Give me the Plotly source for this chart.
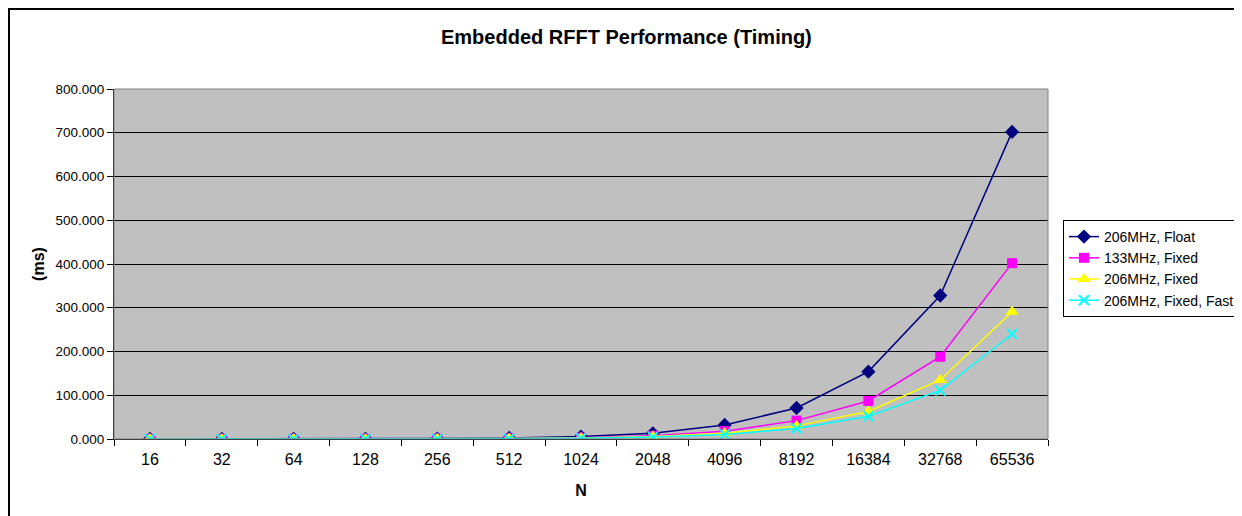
import plotly.graph_objects as go

n_labels = ["16", "32", "64", "128", "256", "512", "1024", "2048", "4096", "8192", "16384", "32768", "65536"]
float_206 = [0.04, 0.09, 0.2, 0.45, 1.0, 2.4, 5.5, 13.0, 32.0, 71.0, 154.0, 328.0, 702.0]
fixed_133 = [0.02, 0.05, 0.12, 0.27, 0.6, 1.3, 3.0, 7.5, 18.0, 42.0, 87.0, 188.0, 402.0]
fixed_206 = [0.015, 0.035, 0.08, 0.18, 0.4, 0.9, 2.1, 5.5, 13.0, 30.0, 63.0, 135.0, 291.0]
fast_206 = [0.012, 0.03, 0.07, 0.15, 0.33, 0.75, 1.7, 4.5, 10.5, 24.0, 52.0, 111.0, 240.0]

series = [
    ("206MHz, Float", float_206, "#000080", "diamond", 11),
    ("133MHz, Fixed", fixed_133, "#FF00FF", "square", 10),
    ("206MHz, Fixed", fixed_206, "#FFFF00", "triangle-up", 12),
    ("206MHz, Fixed, Fast", fast_206, "#00FFFF", "x-thin", 10),
]

fig = go.Figure()
for name, vals, color, sym, size in series:
    marker = dict(symbol=sym, size=size, color=color)
    if sym == "x-thin":
        marker["line"] = dict(color=color, width=2)
    fig.add_trace(go.Scatter(
        x=n_labels, y=vals, name=name, mode="lines+markers",
        line=dict(color=color, width=1.5), marker=marker,
    ))

# figure sits inside the page body (8px default margin)
W, H = 1234, 508
L, R, T, B = 106, 194, 81, 77
pw, ph = W - L - R, H - T - B

def px_x(p):
    return (p - L) / pw

def px_y(p):
    return (H - B - p) / ph

font = "Liberation Sans, Arial, sans-serif"
fig.update_layout(
    width=W, height=H,
    margin=dict(l=L, r=R, t=T, b=B, autoexpand=False),
    paper_bgcolor="white", plot_bgcolor="#C0C0C0",
    font=dict(family=font, color="black", size=12),
    showlegend=True,
    legend=dict(
        x=px_x(1055), y=px_y(212), xanchor="left", yanchor="top",
        bordercolor="black", borderwidth=1, bgcolor="white",
        font=dict(size=14, family=font), tracegroupgap=0,
    ),
    xaxis=dict(
        type="category", range=[-0.5, len(n_labels) - 0.5],
        tickson="boundaries", ticks="outside", ticklen=6, ticklabelstandoff=6,
        tickcolor="black", showgrid=False, showline=True, linecolor="black",
        tickfont=dict(size=16), mirror=False, zeroline=False,
        title=dict(text="<b>N</b>", font=dict(size=16), standoff=17),
    ),
    yaxis=dict(
        range=[0, 800], dtick=100, tickformat=".3f", ticks="outside", ticklen=6,
        tickcolor="black", showgrid=True, gridcolor="black", gridwidth=1,
        showline=True, linecolor="black", zeroline=False,
        tickfont=dict(size=13.5),
        title=dict(text="<b>(ms)</b>", font=dict(size=16), standoff=6),
    ),
    annotations=[dict(
        text="<b>Embedded RFFT Performance (Timing)</b>", xref="paper", yref="paper",
        x=px_x(618), y=px_y(29), xanchor="center", yanchor="middle",
        showarrow=False, font=dict(size=20, family=font),
    )],
    shapes=[
        dict(type="rect", xref="paper", yref="paper", x0=px_x(1), y0=px_y(560),
             x1=px_x(1300), y1=px_y(1), line=dict(color="black", width=2), layer="below"),
        dict(type="rect", xref="paper", yref="paper", x0=0, y0=0, x1=1, y1=1,
             line=dict(color="#808080", width=1), layer="above"),
    ],
)

fig.write_html("out.html")
